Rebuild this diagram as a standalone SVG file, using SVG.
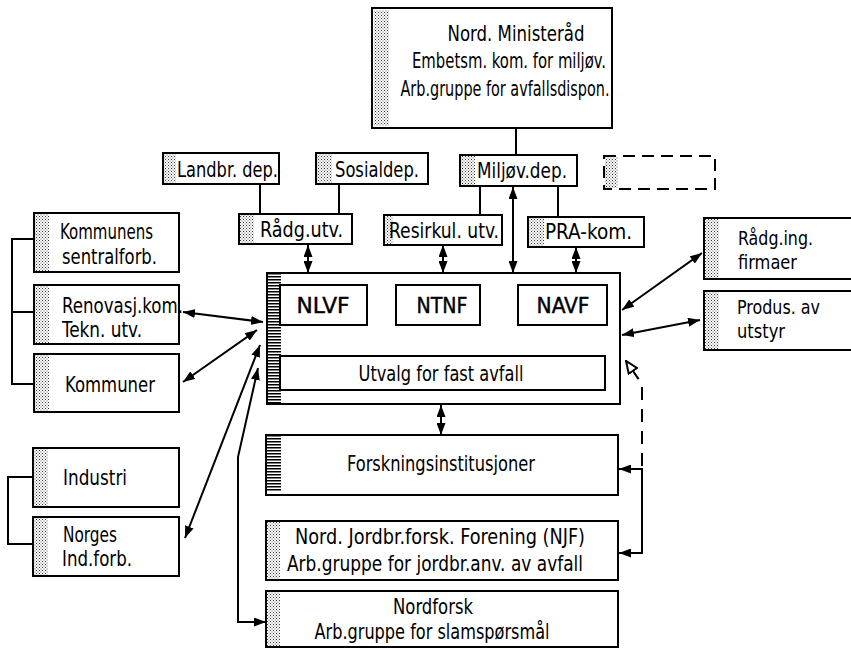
<svg xmlns="http://www.w3.org/2000/svg" width="851" height="649" viewBox="0 0 851 649">
<style>
.box{fill:#fff;stroke:#000;stroke-width:2}
.dash{fill:#fff;stroke:#000;stroke-width:2;stroke-dasharray:12,7}
.st{fill:url(#stip);stroke:none}
.ht{fill:url(#hatch);stroke:none}
text{font-family:"DejaVu Sans Condensed","DejaVu Sans","Liberation Sans",sans-serif;font-size:21px;fill:#000;font-stretch:condensed}
.c{text-anchor:middle}
.sm{font-size:20px}
.big{font-size:22px;stroke:#000;stroke-width:0.4}
.ln{fill:none;stroke:#000;stroke-width:2}
.ar{fill:none;stroke:#000;stroke-width:2;marker-start:url(#ah);marker-end:url(#ah)}
</style>
<defs>
<pattern id="stip" width="3" height="3" patternUnits="userSpaceOnUse">
<rect width="3" height="3" fill="#fff"/>
<rect x="0" y="0" width="1" height="1" fill="#333"/>
<rect x="1.5" y="1.5" width="1" height="1" fill="#555"/>
</pattern>
<pattern id="hatch" width="4" height="3" patternUnits="userSpaceOnUse">
<rect width="4" height="3" fill="#fff"/>
<rect x="0" y="0" width="4" height="1.5" fill="#000"/>
</pattern>
<marker id="ah" viewBox="0 0 12 9" refX="12" refY="4.5" markerWidth="12" markerHeight="9" markerUnits="userSpaceOnUse" orient="auto-start-reverse">
<path d="M0,0 L12,4.5 L0,9 z" fill="#000"/>
</marker>
<marker id="oh" viewBox="0 0 14 12" refX="13" refY="6" markerWidth="14" markerHeight="12" markerUnits="userSpaceOnUse" orient="auto">
<path d="M1,1 L13,6 L1,11 z" fill="#fff" stroke="#000" stroke-width="2"/>
</marker>
</defs>
<rect width="851" height="649" fill="#fff"/>

<g id="connectors">
<path class="ln" d="M516,128 V155"/>
<path class="ln" d="M260,184 V214"/>
<path class="ln" d="M339,184 V214"/>
<path class="ln" d="M480,186 V215"/>
<path class="ln" d="M558,186 V217"/>
<path class="ln" d="M34,239 H12 V384 H34 M12,312 H34"/>
<path class="ln" d="M33,477 H8 V544 H33"/>
<path class="ar" d="M308,245 V273"/>
<path class="ar" d="M443,245 V273"/>
<path class="ar" d="M513,187 V273"/>
<path class="ar" d="M576,247 V273"/>
<path class="ar" d="M368,305 H396"/>
<path class="ar" d="M481,305 H518"/>
<path class="ar" d="M329,326 V356"/>
<path class="ar" d="M442,326 V356"/>
<path class="ar" d="M561,326 V356"/>
<path class="ar" d="M441,405 V435"/>
<path class="ar" d="M183,312 L263,322"/>
<path class="ar" d="M183,382 L257,330"/>
<path class="ar" d="M185,538 L260,345"/>
<path class="ar" d="M258,368 L238,457 V622 H266"/>
<path class="ar" d="M702,253 L622,310"/>
<path class="ar" d="M700,320 L622,335"/>
<path class="ar" d="M619,469 H642 V553 H619"/>
<path d="M642,466 V384 L626,361" fill="none" stroke="#000" stroke-width="2" stroke-dasharray="13,9" marker-end="url(#oh)"/>
</g>

<g id="nord-ministerrad">
<rect class="box" x="372" y="8" width="240" height="120" stroke-width="3"/>
<rect class="st" x="374" y="10" width="15" height="116"/>
<text class="c" x="516" y="41" textLength="137" lengthAdjust="spacingAndGlyphs">Nord. Ministeråd</text>
<text class="c" x="509" y="68" textLength="194" lengthAdjust="spacingAndGlyphs">Embetsm. kom. for miljøv.</text>
<text class="c" x="505" y="96" textLength="209" lengthAdjust="spacingAndGlyphs">Arb.gruppe for avfallsdispon.</text>
</g>

<g id="landbr-dep">
<rect class="box" x="163" y="153" width="116" height="31"/>
<rect class="st" x="164" y="154" width="12" height="29"/>
<text x="177" y="177" textLength="101" lengthAdjust="spacingAndGlyphs">Landbr. dep.</text>
</g>
<g id="sosialdep">
<rect class="box" x="316" y="153" width="112" height="31"/>
<rect class="st" x="317" y="154" width="15" height="29"/>
<text x="335" y="177" textLength="84" lengthAdjust="spacingAndGlyphs">Sosialdep.</text>
</g>
<g id="miljovdep">
<rect class="box" x="460" y="155" width="117" height="31"/>
<rect class="st" x="461" y="156" width="14" height="29"/>
<text x="477" y="178" textLength="90" lengthAdjust="spacingAndGlyphs">Miljøv.dep.</text>
</g>
<g id="dashed-box">
<rect class="dash" x="604" y="156" width="111" height="33"/>
<rect class="st" x="605" y="157" width="13" height="31"/>
</g>
<g id="radg-utv">
<rect class="box" x="239" y="214" width="113" height="30"/>
<rect class="st" x="240" y="215" width="14" height="28"/>
<text x="260" y="237" textLength="83" lengthAdjust="spacingAndGlyphs">Rådg.utv.</text>
</g>
<g id="resirkul-utv">
<rect class="box" x="384" y="215" width="118" height="30"/>
<rect class="st" x="385" y="216" width="8" height="28"/>
<text x="389" y="238" textLength="110" lengthAdjust="spacingAndGlyphs">Resirkul. utv.</text>
</g>
<g id="pra-kom">
<rect class="box" x="528" y="217" width="116" height="30"/>
<rect class="st" x="529" y="218" width="15" height="28"/>
<text x="545" y="239" textLength="87" lengthAdjust="spacingAndGlyphs">PRA-kom.</text>
</g>

<g id="kommunens">
<rect class="box" x="34" y="213" width="145" height="59"/>
<rect class="st" x="35" y="214" width="14" height="57"/>
<text x="60" y="239" textLength="93" lengthAdjust="spacingAndGlyphs">Kommunens</text>
<text x="62" y="264" textLength="95" lengthAdjust="spacingAndGlyphs">sentralforb.</text>
</g>
<g id="renovasj">
<rect class="box" x="34" y="285" width="145" height="59"/>
<rect class="st" x="35" y="286" width="14" height="57"/>
<text x="62" y="313" textLength="121" lengthAdjust="spacingAndGlyphs">Renovasj.kom.</text>
<text x="62" y="337" textLength="80" lengthAdjust="spacingAndGlyphs">Tekn. utv.</text>
</g>
<g id="kommuner">
<rect class="box" x="34" y="354" width="145" height="58"/>
<rect class="st" x="35" y="355" width="14" height="56"/>
<text x="65" y="392" textLength="90" lengthAdjust="spacingAndGlyphs">Kommuner</text>
</g>
<g id="industri">
<rect class="box" x="33" y="448" width="146" height="59"/>
<rect class="st" x="34" y="449" width="14" height="57"/>
<text x="63" y="485" textLength="64" lengthAdjust="spacingAndGlyphs">Industri</text>
</g>
<g id="norges-indforb">
<rect class="box" x="33" y="517" width="146" height="59"/>
<rect class="st" x="34" y="518" width="14" height="57"/>
<text x="63" y="542" textLength="54" lengthAdjust="spacingAndGlyphs">Norges</text>
<text x="62" y="566" textLength="70" lengthAdjust="spacingAndGlyphs">Ind.forb.</text>
</g>

<g id="main-box">
<rect class="box" x="267" y="273" width="353" height="131"/>
<rect class="ht" x="268" y="274" width="13" height="129"/>
</g>
<g id="nlvf">
<rect class="box" x="280" y="285" width="87" height="40"/>
<text class="c big" x="323" y="313" textLength="53" lengthAdjust="spacingAndGlyphs">NLVF</text>
</g>
<g id="ntnf">
<rect class="box" x="396" y="285" width="84" height="40"/>
<text class="c big" x="442" y="313" textLength="51" lengthAdjust="spacingAndGlyphs">NTNF</text>
</g>
<g id="navf">
<rect class="box" x="518" y="285" width="89" height="40"/>
<text class="c big" x="563" y="313" textLength="53" lengthAdjust="spacingAndGlyphs">NAVF</text>
</g>
<g id="utvalg">
<rect class="box" x="280" y="356" width="325" height="34"/>
<text class="c" x="441" y="381" textLength="165" lengthAdjust="spacingAndGlyphs">Utvalg for fast avfall</text>
</g>

<g id="forskningsinst">
<rect class="box" x="266" y="435" width="352" height="60"/>
<rect class="ht" x="267" y="436" width="14" height="56"/>
<text class="c" x="441" y="471" textLength="188" lengthAdjust="spacingAndGlyphs">Forskningsinstitusjoner</text>
</g>
<g id="njf">
<rect class="box" x="266" y="521" width="352" height="59"/>
<rect class="st" x="267" y="522" width="13" height="57"/>
<text class="c" x="440" y="544" textLength="290" lengthAdjust="spacingAndGlyphs">Nord. Jordbr.forsk. Forening (NJF)</text>
<text class="c" x="435" y="571" textLength="296" lengthAdjust="spacingAndGlyphs">Arb.gruppe for jordbr.anv. av avfall</text>
</g>
<g id="nordforsk">
<rect class="box" x="266" y="591" width="352" height="56"/>
<rect class="st" x="267" y="592" width="13" height="54"/>
<text class="c" x="433" y="614" textLength="80" lengthAdjust="spacingAndGlyphs">Nordforsk</text>
<text class="c" x="432" y="639" textLength="235" lengthAdjust="spacingAndGlyphs">Arb.gruppe for slamspørsmål</text>
</g>

<g id="radg-ing-firmaer">
<rect class="box" x="704" y="218" width="150" height="61"/>
<rect class="st" x="705" y="219" width="14" height="59"/>
<text class="sm" x="738" y="245" textLength="75" lengthAdjust="spacingAndGlyphs">Rådg.ing.</text>
<text class="sm" x="738" y="269" textLength="59" lengthAdjust="spacingAndGlyphs">firmaer</text>
</g>
<g id="produs-av-utstyr">
<rect class="box" x="704" y="291" width="150" height="59"/>
<rect class="st" x="705" y="292" width="14" height="57"/>
<text class="sm" x="737" y="314" textLength="83" lengthAdjust="spacingAndGlyphs">Produs. av</text>
<text class="sm" x="737" y="338" textLength="48" lengthAdjust="spacingAndGlyphs">utstyr</text>
</g>
</svg>
